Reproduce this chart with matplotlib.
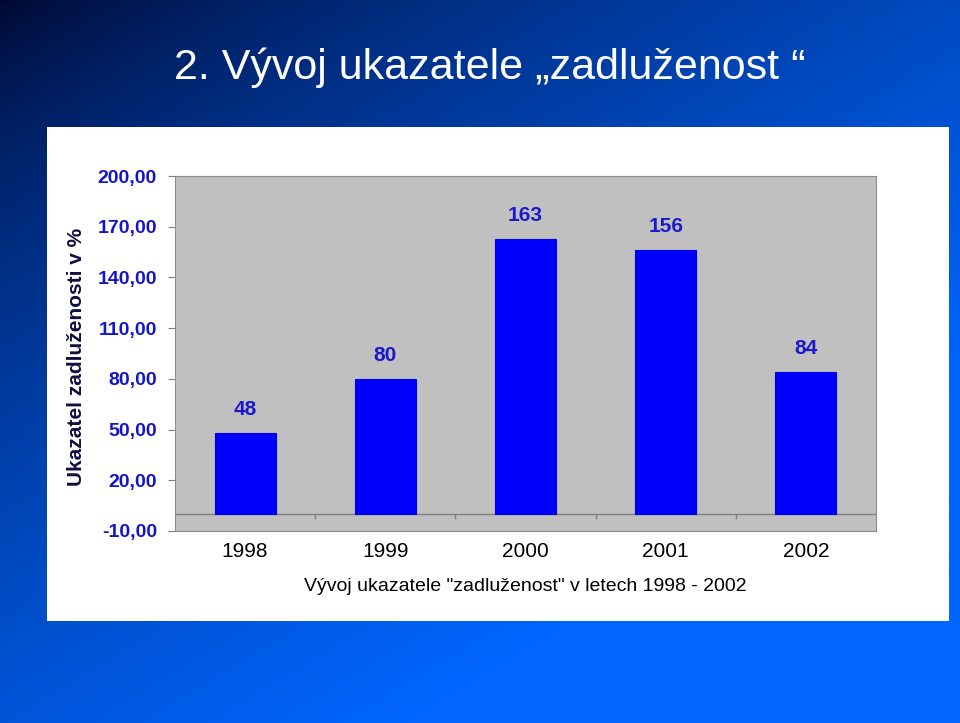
import numpy as np
import matplotlib.pyplot as plt
from matplotlib.patches import Rectangle

years = ['1998', '1999', '2000', '2001', '2002']
values = [48, 80, 163, 156, 84]
y_ticks = [-10, 20, 50, 80, 110, 140, 170, 200]

plt.rcParams['font.family'] = ['Liberation Sans', 'DejaVu Sans']

W, H = 960, 723
fig = plt.figure(figsize=(W / 100, H / 100), dpi=100)

# slide background: dark navy top-left fading into bright blue
bg = fig.add_axes([0, 0, 1, 1], zorder=-5)
gx, gy = np.meshgrid(np.linspace(0, 1, 400), np.linspace(0, 1, 300))
t = np.clip(0.6 * gx + 0.75 * gy, 0, 1) ** 0.7
dark = np.array([0.0, 0.03, 0.18])
light = np.array([0.0, 0.40, 1.0])
img = dark[None, None, :] * (1 - t[..., None]) + light[None, None, :] * t[..., None]
bg.imshow(img, aspect='auto', extent=[0, 1, 0, 1], origin='upper')
bg.set_xlim(0, 1)
bg.set_ylim(0, 1)
bg.axis('off')

# white panel behind the chart
bg.add_patch(Rectangle((47 / W, 1 - 621 / H), (949 - 47) / W, (621 - 127) / H,
                       transform=bg.transAxes, facecolor='white',
                       edgecolor='none', zorder=3))

bg.text(490 / W, 1 - 68 / H, '2. Vývoj ukazatele \u201ezadluženost \u201c',
        color='white', fontsize=31, transform=bg.transAxes,
        ha='center', va='center')

ax = fig.add_axes([175 / W, 1 - 531 / H, (876 - 175) / W, (531 - 176) / H])
ax.set_facecolor('#C0C0C0')
x = np.arange(len(years))
bars = ax.bar(x, values, width=0.435, color='#0000FF', edgecolor='#0000E0',
              linewidth=0.8, zorder=3)
for b, v in zip(bars, values):
    ax.annotate(str(v), (b.get_x() + b.get_width() / 2, v), xytext=(0, 10),
                textcoords='offset points', ha='center', va='bottom',
                fontsize=15, fontweight='bold', color='#1A1ACC')

ax.set_xlim(-0.5, len(years) - 0.5)
ax.set_ylim(-10, 200)
ax.axhline(0, color='#7F7F7F', lw=1, zorder=2)
ax.vlines(x[:-1] + 0.5, -3, 0, color='#7F7F7F', lw=1, zorder=2)

ax.set_yticks(y_ticks)
ax.set_yticklabels([f'{v:.2f}'.replace('.', ',') for v in y_ticks],
                   fontsize=14, fontweight='bold', color='#1414C8')
ax.tick_params(axis='y', length=5, color='#7F7F7F', pad=8)
ax.set_xticks(x)
ax.set_xticklabels(years, fontsize=15, color='black')
ax.tick_params(axis='x', length=0, pad=8)
for s in ax.spines.values():
    s.set_color('#8C8C8C')

ax.set_xlabel('Vývoj ukazatele "zadluženost" v letech 1998 - 2002',
              fontsize=14, color='black', labelpad=12)
ax.set_ylabel('Ukazatel zadluženosti v %', fontsize=15, fontweight='bold',
              color='#101040')
ax.yaxis.set_label_coords(-0.127, 0.49)

fig.savefig('out.png', dpi=100)
